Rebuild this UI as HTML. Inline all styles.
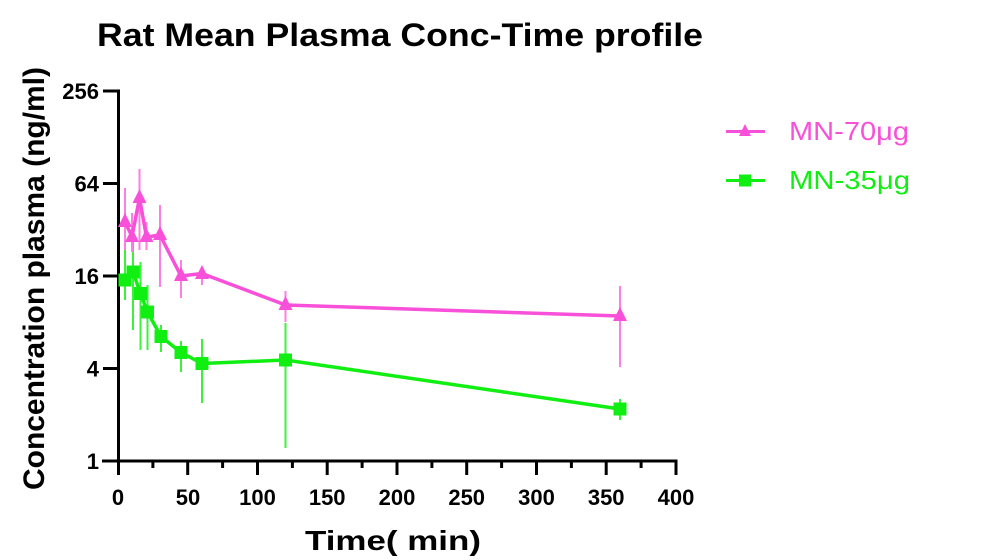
<!DOCTYPE html>
<html>
<head>
<meta charset="utf-8">
<style>
  html,body{margin:0;padding:0;background:#fff;}
  svg{display:block;}
  text{font-family:"Liberation Sans", Arial, sans-serif;}
</style>
</head>
<body>
<svg width="1003" height="560" viewBox="0 0 1003 560" xmlns="http://www.w3.org/2000/svg">
  <rect width="1003" height="560" fill="#fff"/>

  <!-- Title -->
  <text x="97" y="46" font-size="32" font-weight="bold" fill="#000" textLength="606" lengthAdjust="spacingAndGlyphs">Rat Mean Plasma Conc-Time profile</text>

  <!-- Y axis label -->
  <text transform="translate(44,490) rotate(-90)" x="0" y="0" font-size="30" font-weight="bold" fill="#000" textLength="423" lengthAdjust="spacingAndGlyphs">Concentration plasma (ng/ml)</text>

  <!-- X axis label -->
  <text x="305" y="550" font-size="28" font-weight="bold" fill="#000" textLength="176" lengthAdjust="spacingAndGlyphs">Time( min)</text>

  <!-- Axes -->
  <g stroke="#000" stroke-width="3" fill="none">
    <line x1="118.5" y1="89.5" x2="118.5" y2="475"/>
    <line x1="102" y1="461" x2="677.5" y2="461"/>
    <!-- y ticks -->
    <line x1="103" y1="91" x2="118" y2="91"/>
    <line x1="103" y1="183.5" x2="118" y2="183.5"/>
    <line x1="103" y1="276" x2="118" y2="276"/>
    <line x1="103" y1="368.5" x2="118" y2="368.5"/>
    <!-- x ticks major -->
    <line x1="187.7" y1="461" x2="187.7" y2="475"/>
    <line x1="257.5" y1="461" x2="257.5" y2="475"/>
    <line x1="327.2" y1="461" x2="327.2" y2="475"/>
    <line x1="397" y1="461" x2="397" y2="475"/>
    <line x1="466.7" y1="461" x2="466.7" y2="475"/>
    <line x1="536.5" y1="461" x2="536.5" y2="475"/>
    <line x1="606.2" y1="461" x2="606.2" y2="475"/>
    <line x1="676" y1="461" x2="676" y2="475"/>
    <!-- x ticks minor -->
    <line x1="152.9" y1="461" x2="152.9" y2="468"/>
    <line x1="222.6" y1="461" x2="222.6" y2="468"/>
    <line x1="292.4" y1="461" x2="292.4" y2="468"/>
    <line x1="362.1" y1="461" x2="362.1" y2="468"/>
    <line x1="431.9" y1="461" x2="431.9" y2="468"/>
    <line x1="501.6" y1="461" x2="501.6" y2="468"/>
    <line x1="571.4" y1="461" x2="571.4" y2="468"/>
    <line x1="641.1" y1="461" x2="641.1" y2="468"/>
  </g>

  <!-- Y tick labels -->
  <g font-size="22" font-weight="bold" fill="#000" text-anchor="end">
    <text x="99" y="99">256</text>
    <text x="99" y="191.5">64</text>
    <text x="99" y="284">16</text>
    <text x="99" y="376.5">4</text>
    <text x="99" y="469">1</text>
  </g>

  <!-- X tick labels -->
  <g font-size="22" font-weight="bold" fill="#000" text-anchor="middle">
    <text x="118" y="505">0</text>
    <text x="188" y="505">50</text>
    <text x="257.5" y="505">100</text>
    <text x="327.2" y="505">150</text>
    <text x="397" y="505">200</text>
    <text x="466.7" y="505">250</text>
    <text x="536.5" y="505">300</text>
    <text x="606.2" y="505">350</text>
    <text x="676" y="505">400</text>
  </g>

  <!-- Green series error bars -->
  <g stroke="#3cf03c" stroke-width="2">
    <line x1="125" y1="221" x2="125" y2="300"/>
    <line x1="133" y1="230" x2="133" y2="330"/>
    <line x1="140.5" y1="262" x2="140.5" y2="350"/>
    <line x1="147.5" y1="285" x2="147.5" y2="350"/>
    <line x1="161" y1="325" x2="161" y2="352"/>
    <line x1="181" y1="341" x2="181" y2="372"/>
    <line x1="202" y1="339" x2="202" y2="403"/>
    <line x1="285.5" y1="323" x2="285.5" y2="448"/>
    <line x1="620" y1="399" x2="620" y2="420"/>
  </g>

  <!-- Magenta error bars -->
  <g stroke="#ff7ee2" stroke-width="2">
    <line x1="125" y1="188" x2="125" y2="250"/>
    <line x1="132" y1="213" x2="132" y2="252"/>
    <line x1="139.5" y1="169" x2="139.5" y2="250"/>
    <line x1="146.5" y1="222" x2="146.5" y2="250"/>
    <line x1="160" y1="205" x2="160" y2="287"/>
    <line x1="181" y1="260" x2="181" y2="298"/>
    <line x1="202" y1="268" x2="202" y2="285"/>
    <line x1="285.5" y1="291" x2="285.5" y2="322"/>
    <line x1="620" y1="286" x2="620" y2="367"/>
  </g>

  <!-- Magenta line -->
  <polyline fill="none" stroke="#f850d8" stroke-width="3.5" stroke-linejoin="round"
    points="125,222 132,236.5 139.5,198 146.5,237 160,235 181,276 202,273.5 285.5,305 620,316"/>
  <!-- Magenta triangles -->
  <g fill="#f850d8">
    <polygon points="125,213 132,227 118,227"/>
    <polygon points="132,228 139,242 125,242"/>
    <polygon points="139.5,189 146.5,203 132.5,203"/>
    <polygon points="146.5,228 153.5,242 139.5,242"/>
    <polygon points="160,226 167,240 153,240"/>
    <polygon points="181,267 188,281 174,281"/>
    <polygon points="202,265 209,279 195,279"/>
    <polygon points="285.5,296 292.5,310 278.5,310"/>
    <polygon points="620,307 627,321 613,321"/>
  </g>

  <!-- Green line -->
  <polyline fill="none" stroke="#11ee11" stroke-width="3.5" stroke-linejoin="round"
    points="125,280 133,272 140.5,293.5 147.5,312 161,336.5 181,352.5 202,363.5 285.5,360 620,409"/>
  <!-- Green squares -->
  <g fill="#11ee11">
    <rect x="118.5" y="273.5" width="13" height="13"/>
    <rect x="126.5" y="265.5" width="13" height="13"/>
    <rect x="134" y="287" width="13" height="13"/>
    <rect x="141" y="305.5" width="13" height="13"/>
    <rect x="154.5" y="330" width="13" height="13"/>
    <rect x="174.5" y="346" width="13" height="13"/>
    <rect x="195.5" y="357" width="13" height="13"/>
    <rect x="279" y="353.5" width="13" height="13"/>
    <rect x="613.5" y="402.5" width="13" height="13"/>
  </g>

  <!-- Legend -->
  <line x1="726" y1="131.5" x2="765" y2="131.5" stroke="#f850d8" stroke-width="3"/>
  <polygon points="745,124 751,136 739,136" fill="#f850d8"/>
  <text x="789" y="140" font-size="26" fill="#f850d8" textLength="120" lengthAdjust="spacingAndGlyphs">MN-70μg</text>

  <line x1="726" y1="180.5" x2="765" y2="180.5" stroke="#11ee11" stroke-width="3"/>
  <rect x="739" y="174.5" width="12" height="12" fill="#11ee11"/>
  <text x="789" y="189" font-size="26" fill="#11ee11" textLength="121" lengthAdjust="spacingAndGlyphs">MN-35μg</text>
</svg>
</body>
</html>
